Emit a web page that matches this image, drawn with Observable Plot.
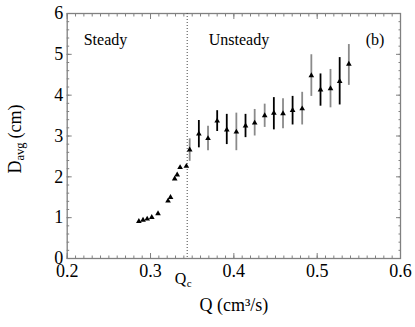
<!DOCTYPE html>
<html>
<head>
<meta charset="utf-8">
<script src="https://cdn.jsdelivr.net/npm/d3@7"></script>
<script src="https://cdn.jsdelivr.net/npm/@observablehq/plot@0.6"></script>
<style>
  html, body { margin: 0; padding: 0; background: #fff; }
  #chart svg, #chart svg text { font-family: 'Liberation Serif', 'DejaVu Serif', serif !important; }
</style>
</head>
<body>
<div id="chart"></div>
<script>
// ---- data ----
const steadyQ = [0.286, 0.291, 0.296, 0.3015, 0.309, 0.321, 0.324, 0.329, 0.332, 0.3355, 0.343];
const steadyD = [0.91, 0.94, 0.97, 1.01, 1.10, 1.41, 1.50, 1.95, 2.05, 2.23, 2.26];

const unsteadyQ  = [0.347, 0.358, 0.369, 0.380, 0.3915, 0.403, 0.414, 0.425, 0.437, 0.448, 0.459, 0.4705, 0.482, 0.493, 0.504, 0.516, 0.527, 0.538];
const unsteadyD  = [2.66, 3.05, 2.94, 3.37, 3.15, 3.10, 3.25, 3.32, 3.50, 3.56, 3.55, 3.63, 3.67, 4.48, 4.13, 4.16, 4.34, 4.76];
const unsteadyLo = [2.38, 2.71, 2.64, 3.11, 2.79, 2.64, 2.96, 3.00, 3.21, 3.15, 3.18, 3.27, 3.27, 3.97, 3.73, 3.69, 3.76, 4.24];
const unsteadyHi = [2.93, 3.38, 3.24, 3.62, 3.53, 3.56, 3.53, 3.65, 3.78, 3.94, 3.91, 3.97, 4.07, 4.99, 4.52, 4.63, 4.92, 5.24];
const barRun     = ["B","A","B","A","A","B","A","B","B","A","B","A","B","B","A","B","A","B"];

const Qc = 0.344;

const xMajor = [0.2, 0.3, 0.4, 0.5, 0.6];
const xMinor = d3.range(20, 61).map(i => i / 100);
const yMajor = [0, 1, 2, 3, 4, 5, 6];
const yMinor = d3.range(0, 31).map(i => i / 5);

// ---- tables built from the arrays ----
const steady = steadyQ.map((q, i) => ({Q: q, D: steadyD[i]}));
const unsteady = unsteadyQ.map((q, i) => ({Q: q, D: unsteadyD[i], lo: unsteadyLo[i], hi: unsteadyHi[i], run: barRun[i]}));

const FONT = "Liberation Serif";
const GRAY = "#808080";

const chart = Plot.plot({
  width: 415,
  height: 327,
  marginLeft: 66.7,
  marginRight: 15,
  marginTop: 13,
  marginBottom: 69,
  style: {fontFamily: FONT, background: "#fff", color: "#000"},
  x: {domain: [0.2, 0.6]},
  y: {domain: [0, 6]},
  color: {domain: ["A", "B"], range: ["#000000", "#8a8a8a"]},
  marks: [
    // tick labels
    Plot.axisX({ticks: xMajor, tickSize: 0, tickPadding: 6, fontSize: 18, fontFamily: FONT, tickFormat: d3.format(".1f"), label: null}),
    Plot.axisY({ticks: yMajor, tickSize: 0, tickPadding: 4, fontSize: 18, fontFamily: FONT, tickFormat: d3.format("d"), label: null}),
    // inward ticks on all four sides
    Plot.axisX({anchor: "bottom", ticks: xMinor, tickSize: -2.5, text: null, stroke: GRAY, label: null}),
    Plot.axisX({anchor: "bottom", ticks: xMajor, tickSize: -5, text: null, stroke: GRAY, label: null}),
    Plot.axisX({anchor: "top", ticks: xMinor, tickSize: -2.5, text: null, stroke: GRAY, label: null}),
    Plot.axisX({anchor: "top", ticks: xMajor, tickSize: -5, text: null, stroke: GRAY, label: null}),
    Plot.axisY({anchor: "left", ticks: yMinor, tickSize: -2.5, text: null, stroke: GRAY, label: null}),
    Plot.axisY({anchor: "left", ticks: yMajor, tickSize: -5, text: null, stroke: GRAY, label: null}),
    Plot.axisY({anchor: "right", ticks: yMinor, tickSize: -2.5, text: null, stroke: GRAY, label: null}),
    Plot.axisY({anchor: "right", ticks: yMajor, tickSize: -5, text: null, stroke: GRAY, label: null}),
    Plot.frame({stroke: GRAY, strokeWidth: 1.3}),
    // critical flow rate
    Plot.ruleX([Qc], {stroke: "#444", strokeWidth: 1, strokeDasharray: "1,2"}),
    // error bars
    Plot.ruleX(unsteady, {x: "Q", y1: "lo", y2: "hi", stroke: "run", strokeWidth: 1.8}),
    // markers
    Plot.dot(steady, {x: "Q", y: "D", symbol: "triangle", r: 2.1, fill: "#000", stroke: "none"}),
    Plot.dot(unsteady, {x: "Q", y: "D", symbol: "triangle", r: 2.1, fill: "#000", stroke: "none"}),
    // region annotations
    Plot.text(["Steady"], {frameAnchor: "top-left", dx: 16.5, dy: 31, textAnchor: "start", lineAnchor: "bottom", fontSize: 16, fontFamily: FONT}),
    Plot.text(["Unsteady"], {frameAnchor: "top-left", dx: 141.5, dy: 31, textAnchor: "start", lineAnchor: "bottom", fontSize: 16, fontFamily: FONT}),
    Plot.text(["(b)"], {frameAnchor: "top-left", dx: 298.5, dy: 31, textAnchor: "start", lineAnchor: "bottom", fontSize: 16, fontFamily: FONT}),
    // Qc label below the axis
    Plot.text([Qc], {x: d => d, frameAnchor: "bottom", dy: 25, dx: -1, textAnchor: "end", lineAnchor: "bottom", fontSize: 16, fontFamily: FONT, text: () => "Q"}),
    Plot.text([Qc], {x: d => d, frameAnchor: "bottom", dy: 28, dx: -0.5, textAnchor: "start", lineAnchor: "bottom", fontSize: 11, fontFamily: FONT, text: () => "c"}),
    // x axis label
    Plot.text(["Q (cm³/s)"], {frameAnchor: "bottom", dy: 52, lineAnchor: "bottom", fontSize: 18, fontFamily: FONT}),
    // y axis label (rotated, with subscript)
    Plot.text(["D"], {frameAnchor: "left", dx: -46.5, dy: 37.5, rotate: -90, textAnchor: "start", lineAnchor: "bottom", fontSize: 18, fontFamily: FONT}),
    Plot.text(["avg"], {frameAnchor: "left", dx: -43.5, dy: 24.5, rotate: -90, textAnchor: "start", lineAnchor: "bottom", fontSize: 12.5, fontFamily: FONT}),
    Plot.text(["(cm)"], {frameAnchor: "left", dx: -46.5, dy: 2.5, rotate: -90, textAnchor: "start", lineAnchor: "bottom", fontSize: 18, fontFamily: FONT})
  ]
});

document.getElementById("chart").appendChild(chart);
</script>
</body>
</html>
